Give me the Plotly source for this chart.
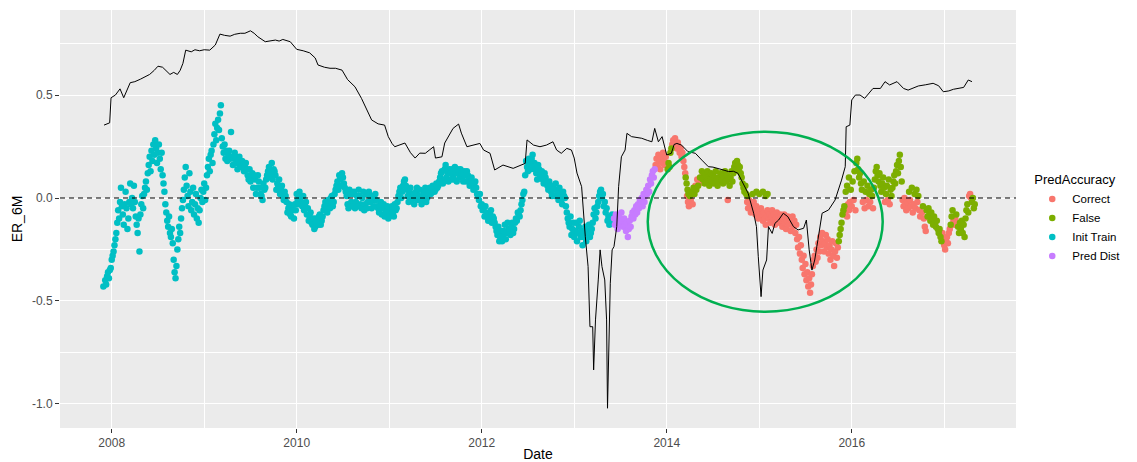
import plotly.graph_objects as go

# ---- data (date as decimal year, ER_6M value) ----
init_train = [
    (2007.91,-0.43),(2007.93,-0.40),(2007.94,-0.42),(2007.95,-0.38),(2007.96,-0.36),(2007.97,-0.39),(2007.98,-0.35),(2007.99,-0.34),
    (2008.00,-0.30),(2008.01,-0.28),(2008.02,-0.26),(2008.03,-0.23),(2008.04,-0.20),(2008.05,-0.17),(2008.06,-0.12),(2008.07,-0.06),(2008.08,-0.10),(2008.09,-0.02),
    (2008.10,0.05),(2008.11,-0.04),(2008.12,-0.08),(2008.13,-0.13),(2008.14,-0.03),(2008.15,0.03),(2008.16,-0.05),(2008.17,-0.15),(2008.18,-0.10),(2008.19,-0.02),
    (2008.20,0.07),(2008.21,-0.03),(2008.22,0.00),(2008.23,-0.05),(2008.24,0.06),(2008.25,-0.02),(2008.26,-0.09),(2008.27,-0.13),(2008.28,-0.17),(2008.29,-0.10),
    (2008.30,-0.26),(2008.31,-0.08),(2008.32,-0.03),(2008.33,0.01),(2008.34,-0.05),(2008.35,0.02),(2008.36,0.05),(2008.37,0.08),(2008.38,0.04),(2008.39,0.12),
    (2008.40,0.16),(2008.41,0.20),(2008.42,0.13),(2008.43,0.23),(2008.44,0.18),(2008.45,0.26),(2008.46,0.21),(2008.47,0.28),(2008.48,0.24),(2008.49,0.17),
    (2008.50,0.22),(2008.51,0.26),(2008.52,0.19),(2008.53,0.14),(2008.54,0.22),(2008.55,0.11),(2008.56,0.07),(2008.57,0.03),(2008.58,-0.03),(2008.59,-0.07),
    (2008.60,-0.11),(2008.61,-0.14),(2008.62,-0.09),(2008.63,-0.17),(2008.64,-0.19),(2008.65,-0.15),(2008.66,-0.22),(2008.67,-0.30),(2008.68,-0.36),(2008.69,-0.39),
    (2008.70,-0.33),(2008.71,-0.25),(2008.72,-0.20),(2008.73,-0.14),(2008.74,-0.17),(2008.75,-0.10),(2008.76,-0.05),(2008.77,-0.01),(2008.78,0.04),(2008.79,0.10),
    (2008.80,0.15),(2008.81,0.06),(2008.82,0.01),(2008.83,-0.04),(2008.84,0.12),(2008.85,0.03),(2008.86,-0.06),(2008.87,-0.02),(2008.88,0.05),(2008.89,-0.08),
    (2008.90,-0.03),(2008.91,0.02),(2008.92,-0.10),(2008.93,-0.05),(2008.94,-0.12),(2008.95,-0.06),(2008.96,0.00),(2008.97,0.04),(2008.98,-0.02),(2008.99,0.03),
    (2009.00,0.07),(2009.01,-0.01),(2009.02,0.05),(2009.03,0.11),(2009.04,0.15),(2009.05,0.19),(2009.06,0.13),(2009.07,0.21),(2009.08,0.23),(2009.09,0.17),
    (2009.10,0.26),(2009.11,0.31),(2009.12,0.36),(2009.13,0.28),(2009.14,0.34),(2009.15,0.38),(2009.16,0.33),(2009.17,0.41),(2009.18,0.45),(2009.19,0.29),
    (2009.20,0.25),(2009.21,0.22),(2009.22,0.26),(2009.23,0.19),(2009.24,0.23),(2009.25,0.18),(2009.26,0.21),(2009.27,0.23),(2009.28,0.19),(2009.29,0.32),(2009.30,0.20),(2009.31,0.16),
    (2009.32,0.19),(2009.33,0.22),(2009.34,0.20),(2009.35,0.17),(2009.36,0.14),(2009.37,0.18),(2009.38,0.20),(2009.39,0.16),(2009.40,0.15),(2009.41,0.18),(2009.42,0.16),(2009.43,0.13),(2009.44,0.15),(2009.45,0.17),(2009.46,0.14),(2009.47,0.11),(2009.48,0.09),(2009.49,0.14),
    (2009.50,0.08),(2009.51,0.10),(2009.52,0.12),(2009.53,0.05),
    (2009.55,0.09),(2009.57,0.05),(2009.59,0.08),(2009.61,0.02),(2009.63,-0.01),(2009.65,0.04),(2009.67,0.09),(2009.69,0.13),(2009.71,0.10),(2009.73,0.17),
    (2009.75,0.14),(2009.77,0.11),(2009.79,0.07),(2009.81,0.09),(2009.83,0.04),(2009.85,0.01),(2009.87,0.03),(2009.89,-0.02),(2009.91,-0.05),(2009.93,-0.08),
    (2009.95,-0.04),(2009.97,-0.10),(2009.99,-0.06),(2010.01,-0.01),(2010.03,0.03),(2010.05,-0.02),(2010.07,0.01),(2010.09,-0.04),(2010.11,-0.08),(2010.13,-0.11),
    (2010.15,-0.07),(2010.17,-0.13),(2010.19,-0.15),(2010.21,-0.10),(2010.23,-0.13),(2010.25,-0.08),(2010.27,-0.11),(2010.29,-0.06),(2010.31,-0.02),(2010.33,-0.07),
    (2010.35,-0.03),(2010.37,0.00),(2010.39,-0.04),(2010.41,0.02),(2010.43,0.06),(2010.45,0.04),(2010.47,0.09),(2010.49,0.12),(2010.51,0.07),(2010.53,0.03),
    (2010.55,-0.03),(2010.57,0.04),(2010.59,-0.02),(2010.61,0.02),(2010.63,-0.05),(2010.65,0.01),(2010.67,0.04),(2010.69,-0.03),(2010.71,0.00),(2010.73,-0.06),
    (2010.75,0.02),(2010.77,-0.02),(2010.79,0.01),(2010.81,-0.05),(2010.83,-0.01),(2010.85,0.02),(2010.87,-0.04),(2010.89,-0.07),(2010.91,-0.02),(2010.93,-0.05),
    (2010.95,-0.09),(2010.97,-0.06),(2010.99,-0.10),(2011.01,-0.07),(2011.03,-0.04),(2011.05,-0.09),(2011.07,-0.06),(2011.09,-0.02),(2011.11,0.03),(2011.13,0.00),
    (2011.15,0.06),(2011.17,0.09),(2011.19,0.04),(2011.21,-0.02),(2011.23,0.05),(2011.25,0.01),(2011.27,-0.03),(2011.29,0.03),(2011.31,-0.01),(2011.33,0.04),
    (2011.35,-0.03),(2011.37,0.02),(2011.39,0.05),(2011.41,0.00),(2011.43,0.04),(2011.45,0.02),(2011.47,0.06),(2011.49,0.03),(2011.51,0.07),(2011.53,0.06),
    (2011.55,0.10),(2011.57,0.13),(2011.59,0.09),(2011.61,0.16),(2011.63,0.12),(2011.65,0.14),(2011.67,0.09),(2011.69,0.11),(2011.71,0.15),(2011.73,0.08),
    (2011.75,0.12),(2011.77,0.14),(2011.79,0.10),(2011.81,0.13),(2011.83,0.08),(2011.85,0.11),(2011.87,0.06),(2011.89,0.10),(2011.91,0.04),(2011.93,0.08),
    (2011.95,0.02),(2011.97,-0.01),(2011.99,-0.04),(2012.01,-0.06),(2012.03,-0.09),(2012.05,-0.07),(2012.07,-0.11),(2012.09,-0.08),(2012.11,-0.12),(2012.13,-0.10),
    (2012.15,-0.14),(2012.17,-0.18),(2012.19,-0.21),(2012.21,-0.16),(2012.23,-0.19),(2012.25,-0.13),(2012.27,-0.17),(2012.29,-0.15),(2012.31,-0.18),(2012.33,-0.12),
    (2012.35,-0.15),(2012.37,-0.10),(2012.39,-0.07),(2012.41,-0.09),(2012.43,-0.03),(2012.45,0.02),(2012.47,0.11),(2012.49,0.15),(2012.51,0.19),(2012.53,0.14),
    (2012.55,0.21),(2012.57,0.17),(2012.59,0.12),(2012.61,0.16),(2012.63,0.10),(2012.65,0.13),(2012.67,0.07),(2012.69,0.10),(2012.71,0.06),(2012.73,0.08),
    (2012.75,0.03),(2012.77,0.06),(2012.79,0.01),(2012.81,0.04),(2012.83,-0.01),(2012.85,0.02),(2012.87,-0.03),(2012.89,0.01),(2012.91,-0.04),(2012.93,-0.10),
    (2012.95,-0.14),(2012.97,-0.18),(2012.99,-0.12),(2013.01,-0.16),(2013.03,-0.21),(2013.05,-0.14),(2013.07,-0.19),(2013.09,-0.23),(2013.11,-0.17),(2013.13,-0.21),
    (2013.15,-0.16),(2013.17,-0.19),(2013.19,-0.15),(2013.21,-0.08),(2013.23,-0.10),(2013.25,-0.04),(2013.27,0.01),(2013.29,0.04),(2013.31,0.02),(2013.33,-0.02),
    (2013.35,-0.05),(2013.37,-0.09),(2013.39,-0.12),(2013.41,-0.08),
    (2009.54,0.11),(2009.56,0.02),(2009.58,0.11),(2009.60,0.05),(2009.62,0.01),(2009.64,0.07),(2009.66,0.05),(2009.68,0.11),(2009.70,0.15),(2009.72,0.12),
    (2009.74,0.09),(2009.76,0.13),(2009.78,0.04),(2009.80,0.06),(2009.82,0.02),(2009.84,0.06),(2009.86,-0.01),(2009.88,0.01),(2009.90,-0.07),(2009.92,-0.03),
    (2009.94,-0.09),(2009.96,-0.06),(2009.98,-0.03),(2010.00,0.02),(2010.02,-0.03),(2010.04,0.01),(2010.06,-0.04),(2010.08,-0.06),(2010.10,-0.02),(2010.12,-0.05),
    (2010.14,-0.09),(2010.16,-0.12),(2010.18,-0.10),(2010.20,-0.14),(2010.22,-0.12),(2010.24,-0.09),(2010.26,-0.13),(2010.28,-0.09),(2010.30,-0.04),(2010.32,-0.05),
    (2010.34,-0.01),(2010.36,-0.05),(2010.38,0.01),(2010.40,-0.02),(2010.42,0.04),(2010.44,0.08),(2010.46,0.11),(2010.48,0.06),(2010.50,0.10),(2010.52,0.05),
    (2010.54,0.01),(2010.56,-0.05),(2010.58,0.02),(2010.60,-0.04),(2010.62,0.03),(2010.64,-0.02),(2010.66,-0.04),(2010.68,0.01),(2010.70,-0.05),(2010.72,0.03),
    (2010.74,-0.03),(2010.76,-0.05),(2010.78,0.03),(2010.80,-0.02),(2010.82,0.01),(2010.84,-0.04),(2010.86,-0.01),(2010.88,-0.05),(2010.90,-0.04),(2010.92,-0.08),
    (2010.94,-0.03),(2010.96,-0.07),(2010.98,-0.04),(2011.00,-0.09),(2011.02,-0.05),(2011.04,-0.07),(2011.06,-0.03),(2011.08,-0.05),(2011.10,0.01),(2011.12,0.05),
    (2011.14,0.03),(2011.16,0.08),(2011.18,0.06),(2011.20,0.01),(2011.22,0.03),(2011.24,-0.01),(2011.26,0.02),(2011.28,0.00),(2011.30,0.05),(2011.32,0.01),
    (2011.34,-0.01),(2011.36,0.00),(2011.38,0.03),(2011.40,-0.02),(2011.42,0.02),(2011.44,0.05),(2011.46,0.03),(2011.48,0.05),(2011.50,0.04),(2011.52,0.05),
    (2011.54,0.08),(2011.56,0.12),(2011.58,0.07),(2011.60,0.14),(2011.62,0.10),(2011.64,0.08),(2011.66,0.12),(2011.68,0.14),(2011.70,0.09),(2011.72,0.12),
    (2011.74,0.14),(2011.76,0.10),(2011.78,0.12),(2011.80,0.08),(2011.82,0.11),(2011.84,0.13),(2011.86,0.09),(2011.88,0.08),(2011.90,0.07),(2011.92,0.06),
    (2011.94,0.05),(2011.96,0.01),(2011.98,0.02),(2012.00,-0.03),(2012.02,-0.05),(2012.04,-0.04),(2012.06,-0.09),(2012.08,-0.10),(2012.10,-0.06),(2012.12,-0.09),
    (2012.14,-0.12),(2012.16,-0.16),(2012.18,-0.14),(2012.20,-0.19),(2012.22,-0.21),(2012.24,-0.16),(2012.26,-0.20),(2012.28,-0.12),(2012.30,-0.16),(2012.32,-0.14),
    (2012.34,-0.17),(2012.36,-0.12),(2012.38,-0.11),(2012.40,-0.08),(2012.42,-0.06),(2012.44,-0.01),(2012.46,0.03),(2012.48,0.18),(2012.50,0.13),(2012.52,0.17),
    (2012.54,0.19),(2012.56,0.15),(2012.58,0.14),(2012.60,0.09),(2012.62,0.14),(2012.64,0.12),(2012.66,0.09),(2012.68,0.12),(2012.70,0.08),(2012.72,0.04),
    (2012.74,0.06),(2012.76,0.01),(2012.78,0.04),(2012.80,0.07),(2012.82,0.02),(2012.84,0.05),(2012.86,-0.01),(2012.88,0.03),(2012.90,0.00),(2012.92,-0.07),
    (2012.94,-0.12),(2012.96,-0.09),(2012.98,-0.15),(2013.00,-0.19),(2013.02,-0.12),(2013.04,-0.17),(2013.06,-0.11),(2013.08,-0.16),(2013.10,-0.19),(2013.12,-0.14),
    (2013.14,-0.18),(2013.16,-0.13),(2013.18,-0.17),(2013.20,-0.12),(2013.22,-0.05),(2013.24,-0.07),(2013.26,-0.02),(2013.28,0.03),(2013.30,0.00),(2013.32,-0.04),
    (2013.34,-0.07),(2013.36,-0.11),(2013.38,-0.13),(2013.40,-0.10),
]

pred_dist = [
    (2013.43,-0.10),(2013.44,-0.13),(2013.45,-0.08),(2013.46,-0.12),(2013.47,-0.15),(2013.48,-0.09),(2013.49,-0.13),(2013.50,-0.10),
    (2013.51,-0.07),(2013.52,-0.11),(2013.53,-0.14),(2013.54,-0.10),(2013.55,-0.13),(2013.56,-0.16),(2013.57,-0.12),(2013.58,-0.19),
    (2013.59,-0.15),(2013.60,-0.11),(2013.61,-0.14),(2013.62,-0.09),(2013.63,-0.07),(2013.64,-0.10),(2013.65,-0.06),(2013.66,-0.08),
    (2013.67,-0.04),(2013.68,-0.07),(2013.69,-0.03),(2013.70,-0.05),(2013.71,-0.01),(2013.72,-0.03),(2013.73,0.00),(2013.74,-0.04),
    (2013.75,0.02),(2013.76,-0.02),(2013.77,0.01),(2013.78,0.04),(2013.79,0.02),(2013.80,0.06),(2013.81,0.03),(2013.82,0.09),(2013.83,0.07),
    (2013.84,0.11),(2013.85,0.13),(2013.86,0.10),(2013.87,0.14),
]

correct = [
    (2013.88,0.16),(2013.89,0.19),(2013.90,0.15),(2013.91,0.21),(2013.92,0.18),(2013.93,0.14),(2013.94,0.20),(2013.95,0.17),(2013.96,0.22),(2013.97,0.19),
    (2013.98,0.16),(2013.99,0.20),(2014.00,0.17),(2014.06,0.26),(2014.07,0.28),(2014.08,0.25),(2014.09,0.29),(2014.10,0.27),(2014.11,0.24),(2014.12,0.27),
    (2014.13,0.25),(2014.14,0.22),(2014.15,0.24),(2014.16,0.20),(2014.17,0.22),(2014.18,0.18),(2014.19,0.15),(2014.20,0.12),(2014.22,0.01),(2014.23,-0.02),
    (2014.24,-0.04),(2014.26,-0.01),(2014.28,-0.03),(2014.31,0.06),(2014.33,0.09),(2014.35,0.07),(2014.37,0.10),(2014.66,-0.01),
    (2014.87,-0.02),(2014.88,-0.05),(2014.89,-0.01),(2014.90,-0.04),(2014.91,-0.07),(2014.92,-0.03),(2014.93,-0.06),(2014.94,-0.02),(2014.95,-0.05),(2014.96,-0.08),
    (2014.97,-0.04),(2014.98,-0.07),(2014.99,-0.10),(2015.00,-0.06),(2015.01,-0.09),(2015.02,-0.05),(2015.03,-0.08),(2015.04,-0.11),(2015.05,-0.07),(2015.06,-0.10),
    (2015.07,-0.13),(2015.08,-0.09),(2015.09,-0.06),(2015.10,-0.10),(2015.11,-0.08),(2015.12,-0.12),(2015.13,-0.09),(2015.14,-0.06),(2015.15,-0.11),(2015.16,-0.08),
    (2015.17,-0.13),(2015.18,-0.10),(2015.19,-0.07),(2015.20,-0.11),(2015.21,-0.09),(2015.22,-0.12),(2015.23,-0.08),(2015.24,-0.11),(2015.25,-0.14),(2015.26,-0.10),
    (2015.27,-0.08),(2015.28,-0.12),(2015.29,-0.15),(2015.30,-0.11),(2015.31,-0.09),(2015.32,-0.13),(2015.33,-0.10),(2015.34,-0.16),(2015.35,-0.12),(2015.36,-0.09),
    (2015.37,-0.14),(2015.38,-0.11),(2015.39,-0.17),(2015.40,-0.13),(2015.41,-0.20),(2015.42,-0.24),(2015.43,-0.19),(2015.44,-0.27),(2015.45,-0.23),(2015.46,-0.30),
    (2015.47,-0.34),(2015.48,-0.28),(2015.49,-0.37),(2015.50,-0.32),(2015.51,-0.40),(2015.52,-0.36),(2015.53,-0.43),(2015.54,-0.39),(2015.55,-0.46),(2015.56,-0.42),
    (2015.57,-0.37),(2015.58,-0.33),(2015.59,-0.30),(2015.60,-0.28),(2015.61,-0.31),(2015.62,-0.25),(2015.63,-0.29),(2015.64,-0.22),(2015.65,-0.26),(2015.66,-0.19),(2015.67,-0.23),
    (2015.68,-0.17),(2015.69,-0.21),(2015.70,-0.26),(2015.71,-0.22),(2015.72,-0.18),(2015.73,-0.24),(2015.74,-0.20),(2015.75,-0.27),(2015.76,-0.23),(2015.77,-0.30),
    (2015.78,-0.25),(2015.79,-0.21),(2015.80,-0.28),(2015.81,-0.33),(2015.82,-0.26),(2015.83,-0.22),(2015.84,-0.29),(2015.85,-0.24),
    (2015.93,-0.08),(2015.94,-0.05),(2015.95,-0.09),(2015.96,-0.03),(2015.97,-0.06),(2015.98,-0.02),(2016.00,-0.04),(2016.02,-0.01),(2016.04,-0.06),
    (2016.12,-0.02),(2016.14,-0.05),(2016.16,-0.01),(2016.18,-0.04),(2016.20,-0.02),(2016.23,-0.05),(2016.36,-0.02),(2016.39,-0.01),(2016.41,-0.03),
    (2016.55,-0.01),(2016.56,-0.04),(2016.57,0.00),(2016.58,-0.03),(2016.59,-0.06),(2016.60,-0.02),(2016.61,-0.05),(2016.63,-0.01),(2016.64,-0.04),(2016.66,-0.07),
    (2016.67,-0.03),(2016.69,-0.05),(2016.71,-0.02),(2016.73,-0.06),(2016.74,-0.09),(2016.76,-0.07),(2016.78,-0.10),(2016.79,-0.14),(2016.80,-0.16),
    (2016.98,-0.17),(2016.99,-0.20),(2017.00,-0.23),(2017.01,-0.25),(2017.02,-0.21),(2017.03,-0.19),(2017.04,-0.22),(2017.05,-0.17),(2017.06,-0.15),
    (2017.10,-0.11),(2017.11,-0.13),(2017.12,-0.10),(2017.14,-0.12),(2017.27,0.01),(2017.28,0.02),(2017.29,0.00),
]

false_pred = [
    (2014.01,0.14),(2014.02,0.17),(2014.03,0.15),(2014.04,0.22),(2014.05,0.24),(2014.205,0.10),(2014.215,0.07),(2014.225,0.04),(2014.235,0.02),(2014.25,0.01),
    (2014.27,0.03),(2014.29,0.05),(2014.30,0.02),(2014.32,0.04),(2014.34,0.06),(2014.36,0.10),(2014.38,0.13),(2014.39,0.09),(2014.40,0.12),(2014.41,0.07),
    (2014.42,0.11),(2014.43,0.08),(2014.44,0.13),(2014.45,0.10),(2014.46,0.06),(2014.47,0.09),(2014.48,0.12),(2014.49,0.08),(2014.50,0.11),(2014.51,0.07),
    (2014.52,0.10),(2014.53,0.13),(2014.54,0.09),(2014.55,0.06),(2014.56,0.10),(2014.57,0.08),(2014.58,0.12),(2014.59,0.09),(2014.60,0.11),(2014.61,0.07),
    (2014.62,0.10),(2014.63,0.13),(2014.64,0.08),(2014.65,0.11),(2014.67,0.09),(2014.68,0.06),(2014.69,0.10),(2014.70,0.13),(2014.71,0.08),(2014.72,0.12),
    (2014.73,0.15),(2014.74,0.17),(2014.75,0.14),(2014.76,0.18),(2014.77,0.16),(2014.78,0.13),(2014.79,0.15),(2014.80,0.12),(2014.81,0.10),(2014.82,0.07),
    (2014.83,0.05),(2014.84,0.03),(2014.85,0.06),(2014.86,0.02),(2014.875,0.01),(2014.93,0.02),(2014.97,0.03),(2015.00,0.02),(2015.04,0.03),(2015.07,0.01),
    (2015.09,0.02),
    (2015.86,-0.21),(2015.87,-0.18),(2015.88,-0.15),(2015.89,-0.12),(2015.90,-0.08),(2015.91,-0.06),(2015.92,-0.04),(2015.935,0.03),(2015.95,0.06),(2015.97,0.10),
    (2015.99,0.04),(2016.01,0.08),(2016.03,0.13),(2016.05,0.17),(2016.06,0.19),(2016.07,0.14),(2016.08,0.10),(2016.09,0.12),(2016.10,0.07),(2016.11,0.04),
    (2016.13,0.08),(2016.15,0.03),(2016.17,0.06),(2016.19,0.02),(2016.21,0.04),(2016.22,0.01),(2016.24,0.05),(2016.25,0.09),(2016.26,0.13),(2016.27,0.15),
    (2016.28,0.11),(2016.29,0.08),(2016.30,0.12),(2016.31,0.06),(2016.32,0.03),(2016.33,0.07),(2016.34,0.10),(2016.35,0.05),(2016.37,0.02),(2016.38,0.06),
    (2016.40,0.09),(2016.42,0.04),(2016.43,0.01),(2016.44,0.05),(2016.45,0.08),(2016.46,0.11),(2016.47,0.07),(2016.48,0.13),(2016.49,0.16),(2016.50,0.12),
    (2016.51,0.18),(2016.52,0.21),(2016.53,0.15),(2016.54,0.08),(2016.62,0.03),(2016.65,0.05),(2016.68,0.02),(2016.70,0.04),(2016.72,0.01),
    (2016.77,-0.04),(2016.81,-0.06),(2016.82,-0.09),(2016.83,-0.05),(2016.84,-0.08),(2016.85,-0.11),(2016.86,-0.07),(2016.87,-0.10),(2016.88,-0.13),(2016.89,-0.09),
    (2016.90,-0.12),(2016.91,-0.14),(2016.92,-0.11),(2016.93,-0.15),(2016.94,-0.17),(2016.95,-0.15),(2016.96,-0.19),(2016.97,-0.21),
    (2017.07,-0.13),(2017.08,-0.09),(2017.09,-0.06),(2017.13,-0.08),(2017.15,-0.14),(2017.16,-0.17),(2017.17,-0.12),(2017.18,-0.15),(2017.19,-0.11),(2017.20,-0.17),
    (2017.21,-0.13),(2017.22,-0.19),(2017.23,-0.10),(2017.24,-0.06),(2017.25,-0.03),(2017.26,-0.07),(2017.30,-0.02),(2017.31,0.00),(2017.32,-0.05),(2017.33,-0.03),
]

benchmark_line = [
    (2007.917,0.354),(2007.95,0.36),(2007.978,0.365),(2007.993,0.487),(2008.04,0.50),(2008.09,0.53),(2008.13,0.487),(2008.20,0.56),(2008.25,0.565),
    (2008.31,0.577),(2008.36,0.59),(2008.41,0.60),(2008.46,0.62),(2008.50,0.64),(2008.55,0.635),(2008.59,0.615),(2008.63,0.60),(2008.67,0.61),
    (2008.71,0.60),(2008.74,0.62),(2008.77,0.654),(2008.80,0.718),(2008.86,0.71),(2008.90,0.72),(2008.95,0.715),(2009.00,0.72),(2009.06,0.718),
    (2009.12,0.743),(2009.17,0.796),(2009.22,0.79),(2009.28,0.786),(2009.33,0.795),(2009.39,0.80),(2009.44,0.80),(2009.50,0.812),(2009.54,0.80),
    (2009.58,0.783),(2009.66,0.759),(2009.72,0.765),(2009.77,0.767),(2009.81,0.762),(2009.85,0.77),(2009.93,0.759),(2010.00,0.722),(2010.07,0.715),
    (2010.14,0.705),(2010.20,0.68),(2010.23,0.646),(2010.30,0.635),(2010.36,0.63),(2010.42,0.63),(2010.49,0.621),(2010.55,0.575),(2010.63,0.54),
    (2010.70,0.484),(2010.76,0.43),(2010.81,0.379),(2010.88,0.36),(2010.95,0.354),(2010.99,0.298),(2011.03,0.265),(2011.06,0.249),(2011.12,0.26),
    (2011.17,0.267),(2011.23,0.22),(2011.28,0.194),(2011.33,0.218),(2011.39,0.217),(2011.44,0.235),(2011.48,0.249),(2011.50,0.194),(2011.57,0.20),
    (2011.60,0.267),(2011.65,0.31),(2011.69,0.338),(2011.75,0.359),(2011.78,0.315),(2011.84,0.249),(2011.91,0.257),(2011.98,0.265),(2012.02,0.233),
    (2012.09,0.217),(2012.14,0.136),(2012.23,0.16),(2012.34,0.144),(2012.40,0.155),(2012.47,0.168),(2012.49,0.282),(2012.56,0.257),(2012.63,0.249),
    (2012.70,0.257),(2012.77,0.273),(2012.81,0.233),(2012.86,0.217),(2012.92,0.241),(2012.97,0.233),(2013.00,0.194),(2013.03,0.121),(2013.08,0.055),
    (2013.12,-0.188),(2013.15,-0.333),(2013.17,-0.625),(2013.20,-0.625),(2013.21,-0.835),(2013.23,-0.592),(2013.26,-0.398),(2013.28,-0.252),
    (2013.30,-0.333),(2013.33,-0.398),(2013.35,-0.592),(2013.36,-1.021),(2013.39,-0.414),(2013.41,-0.252),(2013.43,-0.236),(2013.46,-0.139),
    (2013.48,0.055),(2013.51,0.20),(2013.55,0.233),(2013.57,0.314),(2013.62,0.298),(2013.67,0.295),(2013.73,0.29),(2013.79,0.28),(2013.84,0.273),
    (2013.87,0.338),(2013.91,0.273),(2013.95,0.298),(2014.00,0.209),(2014.05,0.217),(2014.08,0.26),(2014.11,0.265),(2014.16,0.257),(2014.23,0.225),
    (2014.31,0.217),(2014.38,0.184),(2014.45,0.152),(2014.50,0.15),(2014.56,0.144),(2014.62,0.135),(2014.67,0.128),(2014.72,0.13),(2014.77,0.12),
    (2014.83,0.071),(2014.88,0.023),(2014.94,-0.074),(2014.97,-0.139),(2014.99,-0.285),(2015.02,-0.479),(2015.04,-0.35),(2015.08,-0.301),
    (2015.10,-0.139),(2015.14,-0.172),(2015.17,-0.123),(2015.21,-0.107),(2015.26,-0.074),(2015.31,-0.091),(2015.37,-0.139),(2015.42,-0.155),
    (2015.48,-0.147),(2015.51,-0.107),(2015.54,-0.252),(2015.57,-0.35),(2015.60,-0.301),(2015.64,-0.188),(2015.68,-0.074),(2015.75,-0.058),
    (2015.82,-0.01),(2015.89,0.087),(2015.93,0.152),(2015.94,0.346),(2015.98,0.354),(2016.00,0.476),(2016.04,0.50),(2016.09,0.50),(2016.14,0.484),
    (2016.23,0.532),(2016.31,0.532),(2016.36,0.565),(2016.41,0.549),(2016.49,0.565),(2016.56,0.532),(2016.61,0.524),(2016.72,0.544),(2016.80,0.55),
    (2016.88,0.557),(2016.94,0.545),(2016.99,0.516),(2017.05,0.52),(2017.10,0.528),(2017.21,0.537),(2017.26,0.573),(2017.30,0.565),
]

x_tick_vals = [2008, 2010, 2012, 2014, 2016]
x_tick_text = ["2008", "2010", "2012", "2014", "2016"]
y_tick_vals = [-1.0, -0.5, 0.0, 0.5]
y_tick_text = ["-1.0", "-0.5", "0.0", "0.5"]

# highlighted region (ellipse) in data coordinates
ellipse_x = [2013.795, 2016.335]
ellipse_y = [-0.552, 0.322]

series = [
    ("Correct", correct, "#F8766D"),
    ("False", false_pred, "#7CAE00"),
    ("Init Train", init_train, "#00BFC4"),
    ("Pred Dist", pred_dist, "#C77CFF"),
]

fig = go.Figure()
for name, pts, col in series:
    fig.add_trace(go.Scatter(
        x=[p[0] for p in pts], y=[p[1] for p in pts], mode="markers", name=name,
        marker=dict(color=col, size=6.5, line=dict(width=0)),
    ))

fig.add_trace(go.Scatter(
    x=[p[0] for p in benchmark_line], y=[p[1] for p in benchmark_line], mode="lines",
    line=dict(color="black", width=1), showlegend=False, hoverinfo="skip",
))

fig.add_shape(type="line", xref="paper", x0=0, x1=1, yref="y", y0=0, y1=0,
              line=dict(color="black", width=1, dash="5px,4px"), layer="above")
fig.add_shape(type="circle", xref="x", yref="y",
              x0=ellipse_x[0], x1=ellipse_x[1], y0=ellipse_y[0], y1=ellipse_y[1],
              line=dict(color="#00B050", width=2.5), layer="above")

axis_common = dict(
    showgrid=True, gridcolor="white", gridwidth=1.1, zeroline=False,
    ticks="outside", ticklen=4, tickwidth=1, tickcolor="#333333",
    tickfont=dict(size=12, color="#4D4D4D"), showline=False, automargin=False,
)

fig.update_xaxes(
    range=[2007.441, 2017.776], tickmode="array", tickvals=x_tick_vals, ticktext=x_tick_text,
    title=dict(text="Date", font=dict(size=14, color="black"), standoff=2),
    minor=dict(dtick=1, tick0=2007, showgrid=True, gridcolor="white", gridwidth=0.5, ticklen=0),
    **axis_common,
)
fig.update_yaxes(
    range=[-1.117, 0.913], tickmode="array", tickvals=y_tick_vals, ticktext=y_tick_text,
    title=dict(text="ER_6M", font=dict(size=14, color="black"), standoff=6),
    minor=dict(dtick=0.25, tick0=-1, showgrid=True, gridcolor="white", gridwidth=0.5, ticklen=0),
    **axis_common,
)

fig.update_layout(
    width=1137, height=462,
    margin=dict(l=60, r=121, t=10, b=34, autoexpand=False),
    paper_bgcolor="white", plot_bgcolor="#EBEBEB",
    font=dict(family="Liberation Sans, Arial, sans-serif", color="black"),
    legend=dict(
        title=dict(text="PredAccuracy", font=dict(size=13, color="black")),
        font=dict(size=11.5, color="black"),
        x=1.017, xanchor="left", y=0.5, yanchor="middle",
        bgcolor="white", itemsizing="trace",
    ),
    showlegend=True,
)

fig.write_html("out.html")
